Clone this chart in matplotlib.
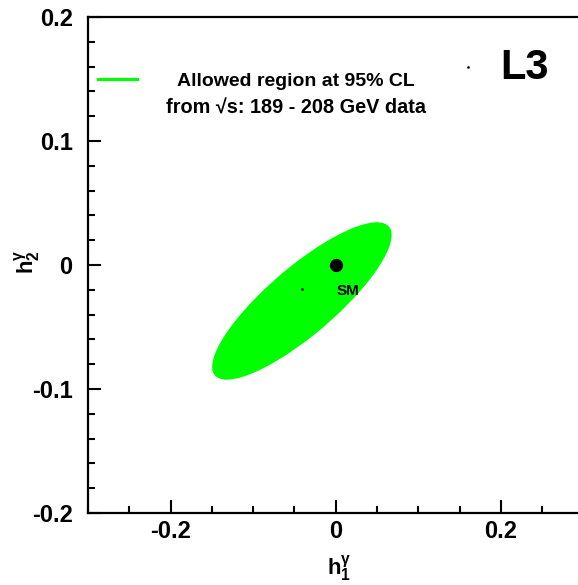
import numpy as np
import matplotlib
matplotlib.use('Agg')
import matplotlib.pyplot as plt
from matplotlib.patches import Ellipse
from matplotlib.lines import Line2D
from matplotlib.ticker import MultipleLocator, FuncFormatter

plt.rcParams['font.family'] = ['Liberation Sans', 'DejaVu Sans']
plt.rcParams['font.weight'] = 'bold'
plt.rcParams['axes.unicode_minus'] = False
plt.rcParams['mathtext.fontset'] = 'custom'
plt.rcParams['mathtext.rm'] = 'Liberation Sans'
plt.rcParams['mathtext.it'] = 'Liberation Sans'
plt.rcParams['mathtext.bf'] = 'Liberation Sans:bold'

# 95% CL contour (ellipse in the h1-h2 plane)
ell_center = (-0.041, -0.029)
ell_width = 0.244
ell_height = 0.062
ell_angle = 28.0

# Standard Model point, best fit point and a stray marker
sm_x, sm_y = [0.0], [0.0]
fit_x, fit_y = [-0.0404], [-0.0194]
stray_x, stray_y = [0.16], [0.16]

x_ticks = [-0.2, 0.0, 0.2]
y_ticks = [-0.2, -0.1, 0.0, 0.1, 0.2]

fig = plt.figure(figsize=(5.78, 5.85), dpi=100)
ax = fig.add_axes([88/578, 72/585, 495.5/578, 496/585])

ax.add_patch(Ellipse(ell_center, ell_width, ell_height, angle=ell_angle,
                     facecolor='#00ff00', edgecolor='none'))
ax.plot(sm_x, sm_y, 'o', color='black', markersize=8.5)
ax.plot(fit_x, fit_y, 's', color='black', markersize=0.8)
ax.plot(stray_x, stray_y, 's', color='black', markersize=0.8)
ax.text(sm_x[0] + 0.001, sm_y[0] - 0.021, 'SM', fontsize=11, fontweight='bold',
        ha='left', va='center')

ax.set_xlim(-0.3, 0.3)
ax.set_ylim(-0.2, 0.2)
ax.set_xticks(x_ticks)
ax.set_yticks(y_ticks)
ax.xaxis.set_minor_locator(MultipleLocator(0.05))
ax.yaxis.set_minor_locator(MultipleLocator(0.02))
fmt = FuncFormatter(lambda v, p: '%g' % round(v, 3))
ax.xaxis.set_major_formatter(fmt)
ax.yaxis.set_major_formatter(fmt)
ax.tick_params(which='both', direction='in', width=1.5, labelsize=17,
               top=False, right=False)
ax.tick_params(which='major', length=9.5)
ax.tick_params(which='minor', length=5)
ax.tick_params(axis='y', pad=11)
ax.tick_params(axis='x', pad=5)
for s in ax.spines.values():
    s.set_linewidth(1.6)

# legend
ax.add_line(Line2D([0.0196, 0.0983], [0.875, 0.875], transform=ax.transAxes,
                   color='#00ff00', linewidth=2.3))
ax.text(0.42, 0.8696, 'Allowed region at 95% CL', transform=ax.transAxes,
        fontsize=14, fontweight='bold', ha='center', va='center')
ax.text(0.42, 0.8165, 'from \u221as: 189 - 208 GeV data', transform=ax.transAxes,
        fontsize=14.3, fontweight='bold', ha='center', va='center')
ax.text(0.8815, 0.8978, 'L3', transform=ax.transAxes, fontsize=30,
        fontweight='bold', ha='center', va='center')

fig.text(0.5865, 0.027, r'$\mathbf{h}^{\gamma}_{\mathbf{1}}$', fontsize=16,
         ha='center', va='center')
fig.text(0.048, 0.552, r'$\mathbf{h}^{\gamma}_{\mathbf{2}}$', fontsize=16,
         ha='center', va='center', rotation=90)

fig.savefig('out.png', dpi=100)
